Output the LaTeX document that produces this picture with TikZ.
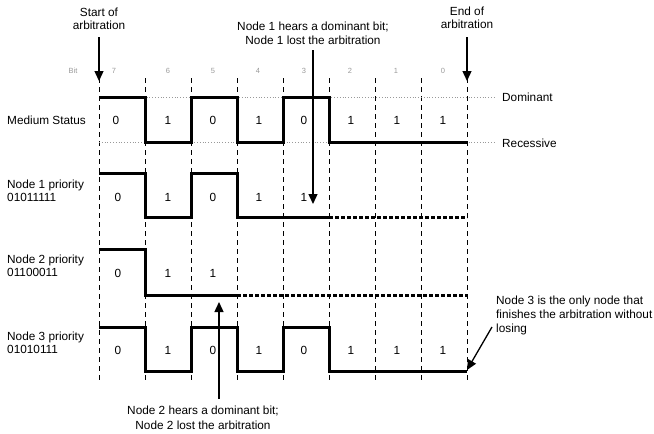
\documentclass[tikz,border=0pt]{standalone}
\usepackage{fontspec}
\setmainfont{Liberation Sans}
\usetikzlibrary{arrows.meta}
\begin{document}
\begin{tikzpicture}[x=1pt,y=-1pt,
  lbl/.style={font=\fontsize{11.8}{13}\selectfont, inner sep=0pt},
  bitnum/.style={font=\fontsize{7.5}{8}\selectfont, text=black!40, inner sep=0pt},
  gridline/.style={dash pattern=on 5pt off 4pt, line width=0.9pt},
  wave/.style={line width=3pt, line join=miter},
  lost/.style={line width=3pt, dash pattern=on 3.5pt off 2.5pt},
  level/.style={black!40, dotted, line width=0.8pt},
  arr/.style={line width=1.3pt, -{Triangle[width=9pt,length=10pt]}}]
\useasboundingbox (0,0) rectangle (654,434);
% bit boundaries
\foreach \i in {0,...,8} \draw[gridline] (99+46*\i,78) -- (99+46*\i,383);
% levels
\draw[level] (99,97) -- (496,97);
\draw[level] (99,142) -- (496,142);
\node[lbl,anchor=west] (dom) at (502,97) {Dominant};
\node[lbl,anchor=west] (rec) at (502,143) {Recessive};
% bit numbers
\node[bitnum] (bit) at (73,71) {Bit};
\foreach \x/\b in {114/7,168/6,213/5,258/4,304/3,350/2,396/1,443/0}
  \node[bitnum] (b\b) at (\x,71) {\b};
% row labels
\node[lbl,anchor=west] (ms) at (7,120) {Medium Status};
\node[lbl,anchor=west,align=left] (n1) at (7,190.5) {Node 1 priority\\01011111};
\node[lbl,anchor=west,align=left] (n2) at (7,266) {Node 2 priority\\01100011};
\node[lbl,anchor=west,align=left] (n3) at (7,343) {Node 3 priority\\01010111};
% waveforms
\draw[wave] (99,97) -- (145,97) -- (145,142) -- (191,142) -- (191,97) -- (237,97) -- (237,142) -- (283,142) -- (283,97) -- (329,97) -- (329,142) -- (467,142);
\draw[wave] (99,173) -- (145,173) -- (145,217) -- (191,217) -- (191,173) -- (237,173) -- (237,217) -- (329,217);
\draw[lost] (329,217) -- (467,217);
\draw[wave] (99,249) -- (145,249) -- (145,295) -- (237,295);
\draw[lost] (237,295) -- (467,295);
\draw[wave] (99,327) -- (145,327) -- (145,371) -- (191,371) -- (191,327) -- (237,327) -- (237,371) -- (283,371) -- (283,327) -- (329,327) -- (329,371) -- (467,371);
% bit values
\foreach \x/\v [count=\k] in {116/0,168/1,213/0,259/1,304/0,351/1,397/1,443/1}
  \node[lbl] (m\k) at (\x,120) {\v};
\foreach \x/\v [count=\k] in {118/0,168/1,213/0,259/1,304/1}
  \node[lbl] (p\k) at (\x,197) {\v};
\foreach \x/\v [count=\k] in {118/0,168/1,213/1}
  \node[lbl] (q\k) at (\x,273) {\v};
\foreach \x/\v [count=\k] in {118/0,168/1,213/0,259/1,304/0,351/1,397/1,443/1}
  \node[lbl] (r\k) at (\x,350) {\v};
% annotations
\node[lbl,align=center] (start) at (99,18.5) {Start of\\arbitration};
\coordinate (s0) at (99,37);
\coordinate (s1) at (99,81);
\draw[arr] (s0) -- (s1);
\node[lbl,align=center] (endn) at (467,17.5) {End of\\arbitration};
\coordinate (e0) at (467,37);
\coordinate (e1) at (467,81);
\draw[arr] (e0) -- (e1);
\node[lbl,align=center,font=\fontsize{11.8}{14.5}\selectfont] (h1) at (313,33.3) {Node 1 hears a dominant bit;\\Node 1 lost the arbitration};
\coordinate (h1a) at (313,50);
\coordinate (h1b) at (313,204);
\draw[arr] (h1a) -- (h1b);
\node[lbl,align=center,font=\fontsize{11.8}{15}\selectfont] (h2) at (203,417.5) {Node 2 hears a dominant bit;\\Node 2 lost the arbitration};
\coordinate (h2a) at (219,399);
\coordinate (h2b) at (219,302);
\draw[arr] (h2a) -- (h2b);
\node[lbl,anchor=west,align=left,font=\fontsize{11.8}{14}\selectfont] (w3) at (496,315) {Node 3 is the only node that\\finishes the arbitration without\\losing};
\coordinate (w3a) at (492,327);
\coordinate (w3b) at (467,370);
\draw[arr] (w3a) -- (w3b);
\end{tikzpicture}
\end{document}
